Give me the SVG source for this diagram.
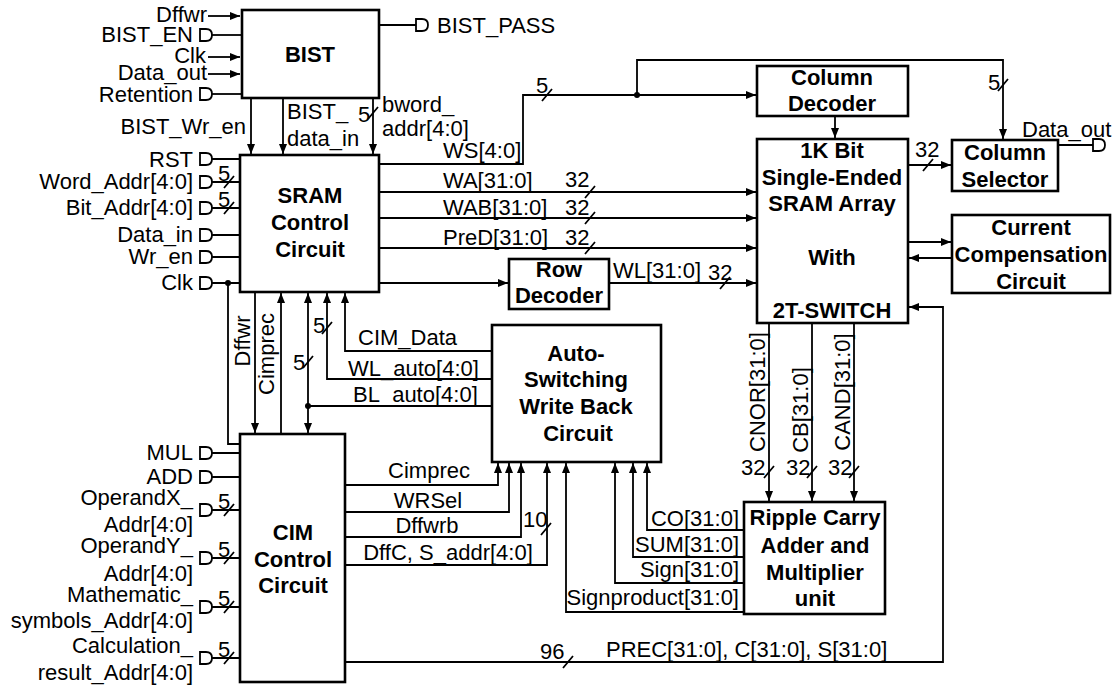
<svg xmlns="http://www.w3.org/2000/svg" width="1114" height="686" viewBox="0 0 1114 686">
<defs>
<style>
text{font-family:"Liberation Sans",Arial,Helvetica,sans-serif;font-size:22px;fill:#000}
.b{font-weight:bold;text-anchor:middle}
.r{text-anchor:end}
.m{text-anchor:middle}
.box{fill:#fff;stroke:#000;stroke-width:2.6}
.w{fill:none;stroke:#000;stroke-width:1.8}
.a{fill:none;stroke:#000;stroke-width:1.8;marker-end:url(#ah)}
.pin{fill:#fff;stroke:#000;stroke-width:1.8}
</style>
<marker id="ah" viewBox="0 0 10 8" refX="10" refY="4" markerWidth="10" markerHeight="8" markerUnits="userSpaceOnUse" orient="auto"><path d="M0,0 L10,4 L0,8 z" fill="#000"/></marker>
<path id="pin" d="M0,-6 H6 Q12,-6 12,0 Q12,6 6,6 H0 Z"/>
</defs>
<rect width="1114" height="686" fill="#fff"/>

<g id="connectors">
<!-- BIST inputs -->
<path class="a" d="M208,16 H240"/>
<path class="w" d="M212,35 H242"/>
<path class="a" d="M208,57 H240"/>
<path class="a" d="M208,74 H240"/>
<path class="w" d="M212,94 H242"/>
<path class="w" d="M379,25 H416"/>
<path class="a" d="M251,98 V154"/>
<path class="a" d="M283,98 V154"/>
<path class="a" d="M373,98 V154"/>
<!-- SRAM inputs -->
<path class="w" d="M212,159 H240 M212,182 H240 M212,208 H240 M212,235 H240 M212,257 H240 M212,283 H240"/>
<path class="w" d="M228,283 V444 H240"/>
<circle cx="228" cy="283" r="3"/>
<!-- CIM inputs -->
<path class="w" d="M212,453 H240 M212,477 H240 M212,510 H240 M212,558 H240 M212,607 H240 M212,658 H240"/>
<!-- SRAM outputs -->
<path class="a" d="M380,164 H523 V95 H756"/>
<circle cx="637" cy="95" r="3"/>
<path class="a" d="M637,95 V60 H1003 V139"/>
<path class="a" d="M380,192 H756"/>
<path class="a" d="M380,218 H756"/>
<path class="a" d="M380,248 H756"/>
<path class="a" d="M380,283 H508"/>
<path class="a" d="M609,283 H756"/>
<path class="a" d="M835,117 V138"/>
<path class="a" d="M908,165 H951"/>
<path class="w" d="M1058,145 H1093"/>
<path class="a" d="M908,242 H951"/>
<path class="a" d="M952,258 H909"/>
<path class="a" d="M345,662 H943 V307 H909"/>
<!-- SRAM bottom -->
<path class="a" d="M255,292 V433"/>
<path class="a" d="M281,434 V293"/>
<path class="a" d="M308,406 V293"/>
<path class="a" d="M308,406 V433"/>
<circle cx="308" cy="406" r="3"/>
<path class="w" d="M491,406 H308"/>
<path class="a" d="M491,379 H327 V293"/>
<path class="a" d="M491,351 H345 V293"/>
<!-- CIM to write back -->
<path class="a" d="M345,485 H498 V463"/>
<path class="a" d="M345,512 H509 V463"/>
<path class="a" d="M345,537 H521 V463"/>
<path class="a" d="M345,565 H547 V463"/>
<!-- Ripple to write back -->
<path class="a" d="M744,530 H647 V463"/>
<path class="a" d="M744,557 H633 V463"/>
<path class="a" d="M744,583 H615 V463"/>
<path class="a" d="M744,612 H566 V463"/>
<!-- Array to Ripple -->
<path class="a" d="M769,324 V501"/>
<path class="a" d="M812,324 V501"/>
<path class="a" d="M854,324 V501"/>
<!-- bus slashes -->
<path class="w" d="M224,188 L234,176 M224,214 L234,202 M224,516 L234,504 M224,564 L234,552 M224,613 L234,601 M224,664 L234,652 M368,119 L378,107 M542,101 L552,89 M998,91 L1008,79 M585,198 L595,186 M585,224 L595,212 M585,254 L595,242 M720,289 L730,277 M923,171 L933,159 M322,334 L332,322 M303,368 L313,356 M764,478 L774,466 M807,478 L817,466 M849,478 L859,466 M541,535 L551,523 M563,668 L573,656"/>
<!-- pins -->
<use href="#pin" class="pin" x="200" y="35"/>
<use href="#pin" class="pin" x="200" y="94"/>
<use href="#pin" class="pin" x="416" y="25"/>
<use href="#pin" class="pin" x="200" y="159"/>
<use href="#pin" class="pin" x="200" y="182"/>
<use href="#pin" class="pin" x="200" y="208"/>
<use href="#pin" class="pin" x="200" y="235"/>
<use href="#pin" class="pin" x="200" y="257"/>
<use href="#pin" class="pin" x="200" y="283"/>
<use href="#pin" class="pin" x="200" y="453"/>
<use href="#pin" class="pin" x="200" y="477"/>
<use href="#pin" class="pin" x="200" y="510"/>
<use href="#pin" class="pin" x="200" y="558"/>
<use href="#pin" class="pin" x="200" y="607"/>
<use href="#pin" class="pin" x="200" y="658"/>
<use href="#pin" class="pin" x="1093" y="145"/>
<!-- labels -->
<text class="r" x="207" y="22">Dffwr</text>
<text class="r" x="193" y="42">BIST_EN</text>
<text class="r" x="206" y="63">Clk</text>
<text class="r" x="207" y="80">Data_out</text>
<text class="r" x="193" y="102">Retention</text>
<text x="437" y="33">BIST_PASS</text>
<text class="r" x="246" y="134">BIST_Wr_en</text>
<text x="287" y="119">BIST_</text>
<text x="287" y="146">data_in</text>
<text x="358" y="122">5</text>
<text x="382" y="112">bword_</text>
<text x="382" y="136">addr[4:0]</text>
<text class="r" x="193" y="167">RST</text>
<text class="r" x="193" y="189">Word_Addr[4:0]</text>
<text class="r" x="193" y="215">Bit_Addr[4:0]</text>
<text class="r" x="193" y="242">Data_in</text>
<text class="r" x="193" y="264">Wr_en</text>
<text class="r" x="193" y="290">Clk</text>
<text x="218" y="181">5</text>
<text x="218" y="207">5</text>
<text class="r" x="193" y="460">MUL</text>
<text class="r" x="193" y="484">ADD</text>
<text class="r" x="193" y="505">OperandX_</text>
<text class="r" x="193" y="532">Addr[4:0]</text>
<text class="r" x="193" y="553">OperandY_</text>
<text class="r" x="193" y="581">Addr[4:0]</text>
<text class="r" x="193" y="602">Mathematic_</text>
<text class="r" x="193" y="628">symbols_Addr[4:0]</text>
<text class="r" x="193" y="653">Calculation_</text>
<text class="r" x="193" y="680">result_Addr[4:0]</text>
<text x="218" y="509">5</text>
<text x="218" y="557">5</text>
<text x="218" y="606">5</text>
<text x="218" y="657">5</text>
<text x="443" y="158">WS[4:0]</text>
<text x="536" y="93">5</text>
<text x="988" y="90">5</text>
<text x="443" y="188">WA[31:0]</text>
<text x="443" y="215">WAB[31:0]</text>
<text x="443" y="245">PreD[31:0]</text>
<text x="565" y="187">32</text>
<text x="565" y="215">32</text>
<text x="565" y="245">32</text>
<text x="613" y="278">WL[31:0]</text>
<text x="708" y="280">32</text>
<text x="915" y="157">32</text>
<text x="1022" y="137">Data_out</text>
<text transform="translate(250,341) rotate(-90)" class="m">Dffwr</text>
<text transform="translate(274,354) rotate(-90)" class="m">Cimprec</text>
<text x="313" y="333">5</text>
<text x="293" y="370">5</text>
<text x="358" y="345">CIM_Data</text>
<text x="348" y="376">WL_auto[4:0]</text>
<text x="353" y="402">BL_auto[4:0]</text>
<text class="m" x="429" y="478">Cimprec</text>
<text class="m" x="428" y="508">WRSel</text>
<text class="m" x="427" y="533">Dffwrb</text>
<text class="m" x="448" y="560">DffC, S_addr[4:0]</text>
<text x="523" y="527">10</text>
<text class="r" x="739" y="526">CO[31:0]</text>
<text class="r" x="739" y="552">SUM[31:0]</text>
<text class="r" x="739" y="577">Sign[31:0]</text>
<text class="r" x="739" y="605">Signproduct[31:0]</text>
<text transform="translate(765,392) rotate(-90)" class="m">CNOR[31:0]</text>
<text transform="translate(808,410) rotate(-90)" class="m">CB[31:0]</text>
<text transform="translate(850,392) rotate(-90)" class="m">CAND[31:0]</text>
<text x="741" y="475">32</text>
<text x="786" y="475">32</text>
<text x="828" y="475">32</text>
<text x="540" y="659">96</text>
<text x="606" y="657">PREC[31:0], C[31:0], S[31:0]</text>
</g>

<g id="bist">
<rect class="box" x="242" y="10" width="137" height="88"/>
<text class="b" x="310" y="62">BIST</text>
</g>
<g id="sram-control">
<rect class="box" x="240" y="155" width="139" height="137"/>
<text class="b" x="310" y="203">SRAM</text>
<text class="b" x="310" y="230">Control</text>
<text class="b" x="310" y="257">Circuit</text>
</g>
<g id="cim-control">
<rect class="box" x="240" y="434" width="105" height="248"/>
<text class="b" x="293" y="540">CIM</text>
<text class="b" x="293" y="567">Control</text>
<text class="b" x="293" y="593">Circuit</text>
</g>
<g id="row-decoder">
<rect class="box" x="509" y="259" width="100" height="50"/>
<text class="b" x="559" y="277">Row</text>
<text class="b" x="559" y="303">Decoder</text>
</g>
<g id="column-decoder">
<rect class="box" x="757" y="66" width="151" height="50"/>
<text class="b" x="832" y="85">Column</text>
<text class="b" x="832" y="111">Decoder</text>
</g>
<g id="sram-array">
<rect class="box" x="757" y="139" width="151" height="184"/>
<text class="b" x="832" y="158">1K Bit</text>
<text class="b" x="832" y="185">Single-Ended</text>
<text class="b" x="832" y="211">SRAM Array</text>
<text class="b" x="832" y="265">With</text>
<text class="b" x="832" y="318">2T-SWITCH</text>
</g>
<g id="column-selector">
<rect class="box" x="952" y="140" width="106" height="51"/>
<text class="b" x="1005" y="160">Column</text>
<text class="b" x="1005" y="187">Selector</text>
</g>
<g id="current-compensation">
<rect class="box" x="952" y="215" width="158" height="78"/>
<text class="b" x="1031" y="235">Current</text>
<text class="b" x="1031" y="262">Compensation</text>
<text class="b" x="1031" y="289">Circuit</text>
</g>
<g id="write-back">
<rect class="box" x="492" y="325" width="169" height="137"/>
<text class="b" x="576" y="361">Auto-</text>
<text class="b" x="576" y="387">Switching</text>
<text class="b" x="576" y="414">Write Back</text>
<text class="b" x="578" y="441">Circuit</text>
</g>
<g id="ripple-adder">
<rect class="box" x="744" y="502" width="141" height="112"/>
<text class="b" x="815" y="525">Ripple Carry</text>
<text class="b" x="815" y="553">Adder and</text>
<text class="b" x="815" y="580">Multiplier</text>
<text class="b" x="815" y="606">unit</text>
</g>
</svg>
